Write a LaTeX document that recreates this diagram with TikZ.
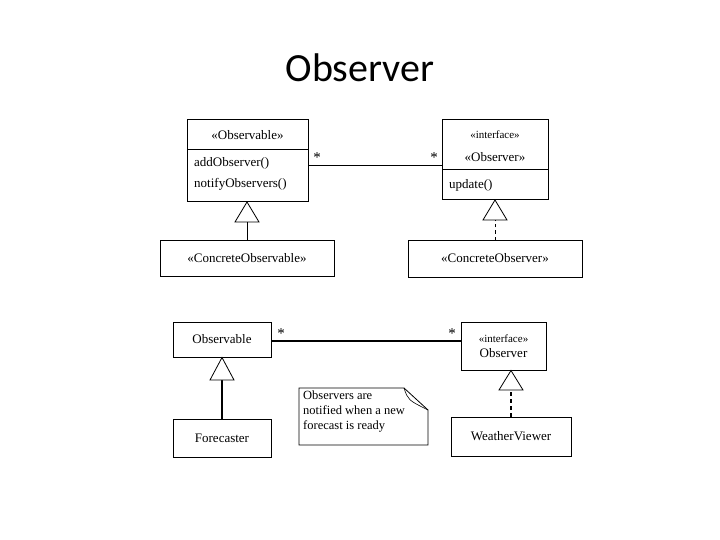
\documentclass[tikz,border=0pt]{standalone}
\usepackage{fontspec}
\setmainfont{Liberation Serif}
\newfontfamily\titlefont{Carlito}
\usetikzlibrary{positioning, calc}
\tikzset{
  umlbox/.style={draw, line width=1pt, inner sep=0pt, font=\fontsize{13}{15}\selectfont},
  umltext/.style={font=\fontsize{13}{15}\selectfont, inner sep=1pt},
  gen/.style={draw, fill=white, line width=0.8pt},
  mult/.style={font=\fontsize{15}{15}\selectfont, inner sep=0pt},
}
\begin{document}
\begin{tikzpicture}[x=1pt, y=-1pt]
\useasboundingbox (0,0) rectangle (720,540);
\node[font=\titlefont\fontsize{40}{44}\selectfont] (title) at (360,68) {Observer};

% ---- upper diagram ----
\draw[line width=1pt] (187,120) rectangle (308,202);
\draw[line width=1pt] (187,150) -- (308,150);
\node[umltext] (abs) at (247.5,135) {«Observable»};
\node[umltext, anchor=west] (addo) at (193,163) {addObserver()};
\node[umltext, anchor=west] (noto) at (193,184) {notifyObservers()};
\coordinate (absE) at (308,165);
\coordinate (absS) at (247,202);

\draw[line width=1pt] (442,120) rectangle (548,200);
\draw[line width=1pt] (442,170) -- (548,170);
\node[umltext, font=\fontsize{11}{13}\selectfont] (iface) at (495,135) {«interface»};
\node[umltext] (absobs) at (495,157) {«Observer»};
\node[umltext, anchor=west] (upd) at (448,185) {update()};
\coordinate (obsW) at (442,165);
\coordinate (obsS) at (495,200);

\node[umlbox, minimum width=174pt, minimum height=36pt] (cobl) at (247,258) {«ConcreteObservable»};
\node[umlbox, minimum width=174pt, minimum height=37pt] (cobr) at (495,258.5) {«ConcreteObserver»};

\draw[line width=0.8pt] (absE) -- (obsW);
\node[mult] at (317,158) {*};
\node[mult] at (434,158) {*};

\draw[line width=1pt] (cobl.north) -- (247,222);
\draw[gen] (absS) -- (235,222) -- (259,222) -- cycle;
\draw[line width=1pt, dashed] (cobr.north) -- (495,220);
\draw[gen] (obsS) -- (483,220) -- (507,220) -- cycle;

% ---- lower diagram ----
\node[umlbox, minimum width=98pt, minimum height=35pt] (obl) at (222,339.5) {Observable};
\node[umlbox, minimum width=85pt, minimum height=48pt, align=center] (obs) at (503.5,346)
  {{\fontsize{11}{13}\selectfont«interface»}\\Observer};
\node[umlbox, minimum width=98pt, minimum height=38pt] (fc) at (222,438) {Forecaster};
\node[umlbox, minimum width=120pt, minimum height=39pt] (wv) at (511,436.5) {WeatherViewer};

\draw[line width=2pt] (obl.east |- 0,341) -- (obs.west |- 0,341);
\node[mult] at (281,334) {*};
\node[mult] at (452,334) {*};

\draw[line width=2pt] (fc.north) -- (222,380);
\draw[gen] (obl.south) -- (210,380) -- (234,380) -- cycle;
\draw[line width=2pt, dash pattern=on 4pt off 3pt] (wv.north) -- (511,390);
\draw[gen] (obs.south -| 511,0) -- (499,390) -- (523,390) -- cycle;

% note
\draw[line width=0.8pt] (299,388) -- (404,388) -- (428,410) -- (428,445) -- (299,445) -- cycle;
\draw[line width=0.6pt] (404,388) .. controls (408,400) .. (428,410);
\node[umltext, anchor=north west, align=left, font=\fontsize{12.5}{15}\selectfont] (note) at (302,390)
  {Observers are\\notified when a new\\forecast is ready};
\end{tikzpicture}
\end{document}
